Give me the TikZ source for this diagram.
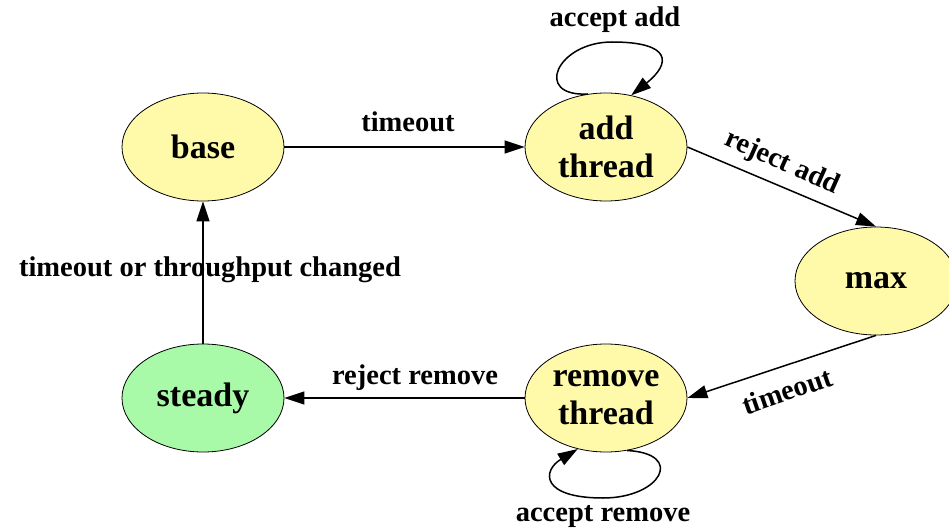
\documentclass[tikz,border=0pt]{standalone}
\usepackage{fontspec}
\setmainfont{Liberation Serif}
\usetikzlibrary{shapes.geometric,arrows.meta}
\definecolor{stateyellow}{RGB}{255,250,170}
\definecolor{stategreen}{RGB}{168,250,168}
\tikzset{
  state/.style={ellipse, draw=black, line width=0.8pt, fill=stateyellow,
    minimum width=162pt, minimum height=108pt, inner sep=0pt, align=center,
    font=\fontsize{34}{38}\selectfont\bfseries},
  edgelabel/.style={font=\fontsize{28.5}{30}\selectfont\bfseries, inner sep=0pt},
  conn/.style={line width=1.5pt, -{Triangle[length=20pt,width=13pt]}}
}
\begin{document}
\begin{tikzpicture}[x=1pt,y=1pt]
  \clip (0,0) rectangle (949,531);
  \fill[white] (0,0) rectangle (949,531);

  % states
  \node[state] (base) at (203,384) {base};
  \node[state] (add) at (606,384) {add\\thread};
  \node[state] (max) at (876,250) {max};
  \node[state] (remove) at (606,133) {remove\\thread};
  \node[state, fill=stategreen] (steady) at (203,133) {steady};

  % transitions
  \draw[conn] (base) -- (add);
  \draw[conn] (add.east) -- (max.north);
  \draw[conn] (max.south) -- (remove.east);
  \draw[conn] (remove) -- (steady);
  \draw[conn] (steady) -- (base);

  % self loops
  \coordinate (addtop) at (612,489);
  \coordinate (rembot) at (603,33);
  \draw[conn] (add.109) .. controls +(-55,-3) and +(-55,0) .. (addtop)
    .. controls +(60,0) and +(40,32) .. (add.64);
  \draw[conn] (remove.-68) .. controls +(58,-3) and +(58,0) .. (rembot)
    .. controls +(-62,0) and +(-36,-22) .. (remove.-119);

  % labels
  \node[edgelabel] (ltimeout1) at (408,409) {timeout};
  \node[edgelabel] (lacceptadd) at (615,511) {accept add};
  \node[edgelabel, rotate=-24] (lrejectadd) at (782,368) {reject add};
  \node[edgelabel, rotate=19] (ltimeout2) at (787,140) {timeout};
  \node[edgelabel] (lrejectremove) at (415,153) {reject remove};
  \node[edgelabel] (lchanged) at (210,261) {timeout or throughput changed};
  \node[edgelabel] (lacceptremove) at (603,14) {accept remove};
\end{tikzpicture}
\end{document}
